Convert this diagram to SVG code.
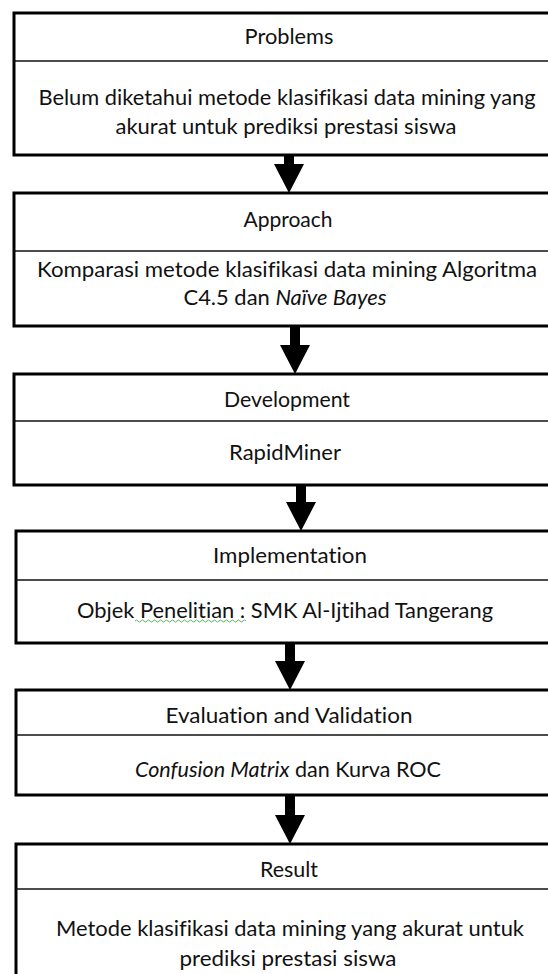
<svg xmlns="http://www.w3.org/2000/svg" width="548" height="974" viewBox="0 0 548 974">
<style>
.box{fill:#fff;stroke:#000;stroke-width:3}
.div{stroke:#111;stroke-width:1.5}
.t{font-family:Lato,"Liberation Sans",sans-serif;font-size:21px;fill:#111;text-anchor:middle;font-variant-ligatures:none}
.i{font-style:italic}
.arr{fill:#000}
</style>
<rect width="548" height="974" fill="#fff"/>
<g id="problems">
<rect class="box" x="14" y="13" width="552" height="142"/>
<line class="div" x1="14" y1="61" x2="566" y2="61"/>
<text class="t" x="289" y="44" textLength="89" lengthAdjust="spacingAndGlyphs">Problems</text>
<text class="t" x="287" y="105" textLength="497" lengthAdjust="spacingAndGlyphs">Belum diketahui metode klasifikasi data mining yang</text>
<text class="t" x="286" y="134" textLength="341" lengthAdjust="spacingAndGlyphs">akurat untuk prediksi prestasi siswa</text>
</g>
<g id="approach">
<rect class="box" x="14" y="193" width="552" height="133"/>
<line class="div" x1="14" y1="251" x2="566" y2="251"/>
<text class="t" x="288" y="227" textLength="89" lengthAdjust="spacingAndGlyphs">Approach</text>
<text class="t" x="287" y="277" textLength="500" lengthAdjust="spacingAndGlyphs">Komparasi metode klasifikasi data mining Algoritma</text>
<text class="t" x="285" y="305" textLength="203" lengthAdjust="spacingAndGlyphs">C4.5 dan <tspan class="i">Naïve Bayes</tspan></text>
</g>
<g id="development">
<rect class="box" x="14" y="374" width="552" height="111"/>
<line class="div" x1="14" y1="421" x2="566" y2="421"/>
<text class="t" x="287" y="407" textLength="126" lengthAdjust="spacingAndGlyphs">Development</text>
<text class="t" x="285" y="460" textLength="112" lengthAdjust="spacingAndGlyphs">RapidMiner</text>
</g>
<g id="implementation">
<rect class="box" x="16" y="531" width="550" height="112"/>
<line class="div" x1="16" y1="580" x2="566" y2="580"/>
<text class="t" x="290" y="563" textLength="154" lengthAdjust="spacingAndGlyphs">Implementation</text>
<text class="t" x="285" y="618" textLength="416" lengthAdjust="spacingAndGlyphs">Objek Penelitian : SMK Al-Ijtihad Tangerang</text>
<path d="M135,621 q1.5,-2 3,0 t3,0 t3,0 t3,0 t3,0 t3,0 t3,0 t3,0 t3,0 t3,0 t3,0 t3,0 t3,0 t3,0 t3,0 t3,0 t3,0 t3,0 t3,0 t3,0 t3,0 t3,0 t3,0 t3,0 t3,0 t3,0 t3,0 t3,0 t3,0 t3,0 t3,0 t3,0 t3,0 t3,0 t3,0 t3,0 t3,0" fill="none" stroke="#5cb85c" stroke-width="1"/>
</g>
<g id="evaluation">
<rect class="box" x="16" y="690" width="550" height="105"/>
<line class="div" x1="16" y1="735" x2="566" y2="735"/>
<text class="t" x="289" y="723" textLength="247" lengthAdjust="spacingAndGlyphs">Evaluation and Validation</text>
<text class="t" x="288" y="777" textLength="306" lengthAdjust="spacingAndGlyphs"><tspan class="i">Confusion Matrix</tspan> dan Kurva ROC</text>
</g>
<g id="result">
<rect class="box" x="16" y="844" width="550" height="150"/>
<line class="div" x1="16" y1="889" x2="566" y2="889"/>
<text class="t" x="289" y="877" textLength="58" lengthAdjust="spacingAndGlyphs">Result</text>
<text class="t" x="290" y="936" textLength="468" lengthAdjust="spacingAndGlyphs">Metode klasifikasi data mining yang akurat untuk</text>
<text class="t" x="288" y="966" textLength="217" lengthAdjust="spacingAndGlyphs">prediksi prestasi siswa</text>
</g>
<g id="connectors">
<path class="arr" d="M284,155 h10 v9 h10 l-15,29 l-15,-29 h10 z"/>
<path class="arr" d="M290,326 h10 v19 h10 l-15,29 l-15,-29 h10 z"/>
<path class="arr" d="M296,485 h10 v17 h10 l-15,29 l-15,-29 h10 z"/>
<path class="arr" d="M285,643 h10 v18 h10 l-15,29 l-15,-29 h10 z"/>
<path class="arr" d="M285,795 h10 v20 h10 l-15,29 l-15,-29 h10 z"/>
</g>
</svg>
